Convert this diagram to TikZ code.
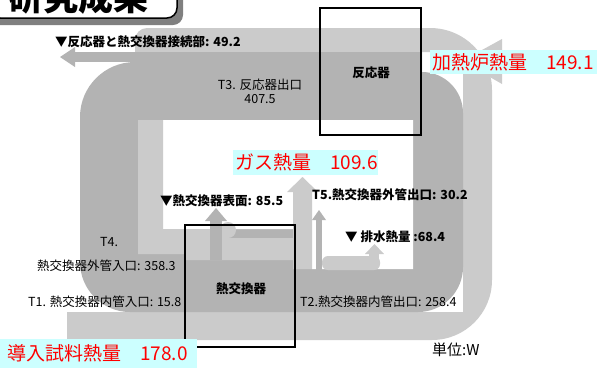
\documentclass[tikz,border=0pt]{standalone}
\usepackage{fontspec}
\setmainfont{Noto Sans CJK JP}
\usetikzlibrary{positioning}

\definecolor{flowlight}{HTML}{CBCBCB}
\definecolor{flowdark}{HTML}{B3B3B3}
\definecolor{tagbg}{HTML}{CCFFFF}
\definecolor{shadowgray}{HTML}{808080}

\tikzset{
  flowL/.style={fill=flowlight},
  flowD/.style={fill=flowdark},
  unit/.style={draw=black, line width=2pt},
  lbl/.style={font=\fontsize{12.5}{14}\selectfont, inner sep=0pt, anchor=west},
  blbl/.style={lbl, font=\fontsize{12.5}{14}\selectfont\bfseries},
  heat/.style={fill=tagbg, text=red, font=\fontsize{19}{21}\selectfont, anchor=west, align=left, inner ysep=0pt}
}

\begin{document}
\begin{tikzpicture}[x=1pt,y=-1pt]
\useasboundingbox (0,0) rectangle (597,368);
\clip (0,0) rectangle (597,368);

% title plate
\fill[shadowgray, rounded corners=10] (-10,-20) rectangle (183,25);
\draw[fill=white, line width=1.5pt, rounded corners=10] (-10,-20) rectangle (177,18);
\node[font=\fontsize{35}{40}\selectfont\bfseries, anchor=base west, inner sep=0pt] (title) at (8,10) {研究成果};

% outer flow
\fill[flowL] (135,52) -- (135,40) arc[start angle=180, end angle=270, radius=12]
  -- (430,28) arc[start angle=270, end angle=360, radius=62]
  -- (492,280) arc[start angle=0, end angle=90, radius=60]
  -- (67,340) -- (67,312) -- (463,312) -- (463,52) -- cycle;
\fill[flowL] (462,61) -- (502,39) -- (502,84) -- cycle;

% inner flow
\fill[flowD] (135,52) -- (422,52) -- (422,72)
  arc[start angle=270, end angle=360, radius=41]
  -- (463,267) arc[start angle=0, end angle=90, radius=45]
  -- (130,312) arc[start angle=90, end angle=180, radius=50]
  -- (80,117) arc[start angle=180, end angle=270, radius=55]
  -- cycle;
\fill[flowD] (75,52) rectangle (136,62);
\fill[flowD] (75,47) -- (75,67) -- (60,57) -- cycle;

\fill[white] (138,120) -- (413,120) -- (413,269) -- (312,269) -- (312,229) -- (138,229) -- cycle;

% branch to gas
\fill[flowL] (138,120) -- (163,120) -- (163,229) -- (228,229) -- (228,238) -- (293,238)
  -- (293,192) -- (312,192) -- (312,269) -- (293,269) -- (293,260) -- (185,260)
  -- (185,254) -- (138,254) -- cycle;
\fill[flowL] (228,230) circle[radius=8];
\fill[flowL] (287,192) -- (318,192) -- (302.5,177) -- cycle;

\fill[flowD] (210,221) rectangle (222,260);
\fill[flowD] (205,221) -- (227,221) -- (216,208) -- cycle;
\fill[flowD] (316,220) rectangle (322,270);
\fill[flowD] (312,220) -- (326,220) -- (319,210) -- cycle;

\fill[flowL, rounded corners=6] (322,256) rectangle (380,270);
\fill[flowL] (369,252) rectangle (379,262);
\fill[flowL] (365,254) -- (384,254) -- (374.5,244) -- cycle;

% units
\draw[unit] (320,8) rectangle (421,135);
\draw[unit] (185,225) rectangle (295,347);
\node[blbl, anchor=center] (reactor) at (371,73) {反応器};
\node[blbl, anchor=center] (hex) at (241,289) {熱交換器};

% values
\node[blbl] (loss) at (55,42) {▼反応器と熱交換器接続部: 49.2};
\node[lbl, anchor=center] (t3) at (260,85) {T3. 反応器出口};
\node[lbl, anchor=center, below=3pt of t3] (t3val) {407.5};
\node[blbl] (surf) at (160,201) {▼熱交換器表面: 85.5};
\node[blbl] (t5) at (312,195) {T5.熱交換器外管出口: 30.2};
\node[blbl] (drain) at (345,237) {▼ 排水熱量 :68.4};
\node[lbl] (t4) at (100,242) {T4.};
\node[lbl] (t4val) at (37,266) {熱交換器外管入口: 358.3};
\node[lbl] (t1) at (28,302) {T1. 熱交換器内管入口: 15.8};
\node[lbl] (t2) at (300,302) {T2.熱交換器内管出口: 258.4};
\node[lbl, font=\fontsize{15}{17}\selectfont] (unitW) at (432,350) {単位:W};

\node[heat, text width=163pt, inner xsep=2pt, minimum height=24pt] (furnace) at (430,62) {加熱炉熱量　149.1};
\node[heat, text width=141pt, inner xsep=2pt, minimum height=25pt] (gas) at (233,162.5) {ガス熱量　109.6};
\node[heat, text width=183pt, inner xsep=7pt, minimum height=29pt] (feed) at (0,353.5) {導入試料熱量　178.0};
\end{tikzpicture}
\end{document}
